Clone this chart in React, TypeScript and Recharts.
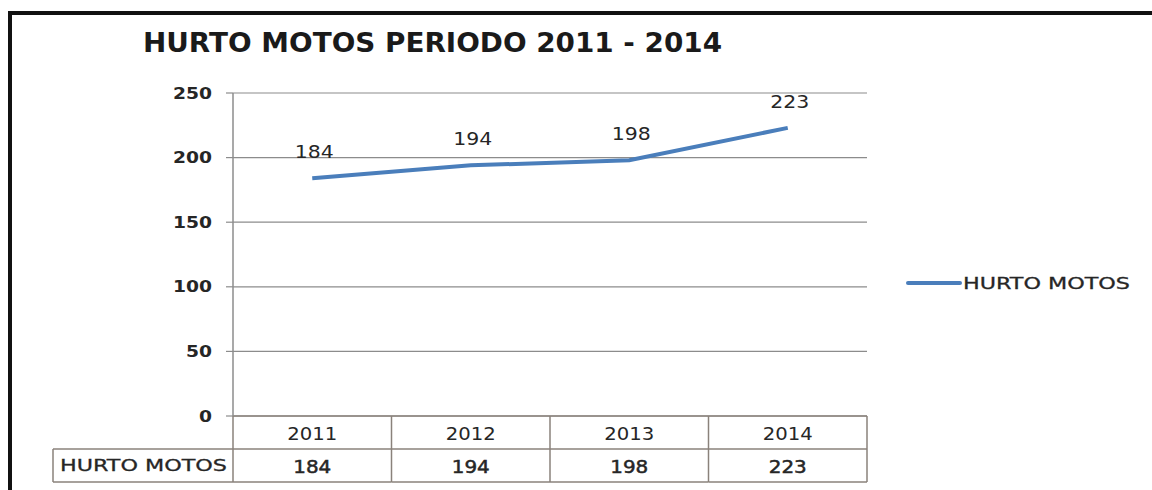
import React from 'react';
import { LineChart, Line, XAxis, YAxis, CartesianGrid, LabelList } from 'recharts';

const CATEGORIES = ['2011', '2012', '2013', '2014'];
const HURTO_MOTOS = [184, 194, 198, 223];
const Y_TICKS = [0, 50, 100, 150, 200, 250];
const SERIES_NAME = 'HURTO MOTOS';
const TITLE = 'HURTO MOTOS PERIODO 2011 - 2014';

const data = CATEGORIES.map((year, i) => ({ year, value: HURTO_MOTOS[i] }));

const W = 1152;
const H = 490;
const PLOT_LEFT = 233;
const PLOT_RIGHT = 867;
const PLOT_TOP = 93;
const PLOT_BOTTOM = 416;
const Y_AXIS_W = 60;
const X_AXIS_H = 74;
const ROW1 = 449;
const ROW2 = 482;
const TABLE_LEFT = 53;

const LINE_BLUE = '#4a7ebb';
const GRID = '#8c8c8c';
const TABLE = '#8a827b';
const INK = '#262626';

const YTick = ({ x, y, payload }: any) => (
  <text
    x={x}
    y={y}
    textAnchor="end"
    dominantBaseline="central"
    fontFamily="DejaVu Sans"
    fontWeight="bold"
    fontSize={16}
    fill={INK}
    textLength={13 * String(payload.value).length}
    lengthAdjust="spacingAndGlyphs"
  >
    {payload.value}
  </text>
);

const TableTick = ({ x, payload, index }: any) => {
  const bw = (PLOT_RIGHT - PLOT_LEFT) / CATEGORIES.length;
  const left = x - bw / 2;
  const right = x + bw / 2;
  const value = HURTO_MOTOS[CATEGORIES.indexOf(payload.value)];
  const last = index === CATEGORIES.length - 1;
  return (
    <g>
      <line x1={left} y1={PLOT_BOTTOM} x2={left} y2={ROW2} stroke={TABLE} strokeWidth={1.5} />
      {last && <line x1={right} y1={PLOT_BOTTOM} x2={right} y2={ROW2} stroke={TABLE} strokeWidth={1.5} />}
      <line x1={left} y1={ROW1} x2={right} y2={ROW1} stroke={TABLE} strokeWidth={1.5} />
      <line x1={left} y1={ROW2} x2={right} y2={ROW2} stroke={TABLE} strokeWidth={1.5} />
      {index === 0 && (
        <g>
          <line x1={TABLE_LEFT} y1={ROW1} x2={left} y2={ROW1} stroke={TABLE} strokeWidth={1.5} />
          <line x1={TABLE_LEFT} y1={ROW2} x2={left} y2={ROW2} stroke={TABLE} strokeWidth={1.5} />
          <line x1={TABLE_LEFT} y1={ROW1} x2={TABLE_LEFT} y2={ROW2} stroke={TABLE} strokeWidth={1.5} />
          <text
            x={TABLE_LEFT + 7}
            y={(ROW1 + ROW2) / 2}
            dominantBaseline="central"
            fontFamily="DejaVu Sans"
            fontSize={16}
            fill={INK}
            stroke={INK}
            strokeWidth={0.3}
            textLength={167}
            lengthAdjust="spacingAndGlyphs"
          >
            {SERIES_NAME}
          </text>
        </g>
      )}
      <text
        x={x}
        y={(PLOT_BOTTOM + ROW1) / 2 + 1}
        textAnchor="middle"
        dominantBaseline="central"
        fontFamily="DejaVu Sans"
        fontSize={18}
        fill={INK}
        textLength={50}
        lengthAdjust="spacingAndGlyphs"
      >
        {payload.value}
      </text>
      <text
        x={x}
        y={(ROW1 + ROW2) / 2 + 1}
        textAnchor="middle"
        dominantBaseline="central"
        fontFamily="DejaVu Sans"
        fontSize={18}
        fill={INK}
        stroke={INK}
        strokeWidth={0.5}
        textLength={38}
        lengthAdjust="spacingAndGlyphs"
      >
        {value}
      </text>
    </g>
  );
};

const PointLabel = ({ x, y, value }: any) => (
  <text
    x={x + 2}
    y={y - 26}
    textAnchor="middle"
    dominantBaseline="central"
    fontFamily="DejaVu Sans"
    fontSize={17}
    fill={INK}
    textLength={39}
    lengthAdjust="spacingAndGlyphs"
  >
    {value}
  </text>
);

export default function App() {
  return (
    <div style={{ position: 'absolute', left: 0, top: 0, width: W, height: H, background: '#fff', overflow: 'hidden' }}>
      <div style={{ position: 'absolute', left: 0, top: 0 }}>
        <LineChart
          width={W}
          height={H}
          data={data}
          margin={{ top: PLOT_TOP, right: W - PLOT_RIGHT, bottom: H - PLOT_BOTTOM - X_AXIS_H, left: PLOT_LEFT - Y_AXIS_W }}
        >
          <CartesianGrid vertical={false} stroke={GRID} strokeWidth={1.2} />
          <XAxis
            dataKey="year"
            scale="band"
            interval={0}
            height={X_AXIS_H}
            axisLine={{ stroke: TABLE, strokeWidth: 1.5 }}
            tickLine={false}
            tick={<TableTick />}
          />
          <YAxis
            width={Y_AXIS_W}
            domain={[0, 250]}
            ticks={Y_TICKS}
            interval={0}
            axisLine={{ stroke: GRID, strokeWidth: 1.5 }}
            tickLine={{ stroke: GRID, strokeWidth: 1.2 }}
            tickSize={7}
            tickMargin={14}
            tick={<YTick />}
          />
          <Line
            type="linear"
            dataKey="value"
            name={SERIES_NAME}
            stroke={LINE_BLUE}
            strokeWidth={4}
            dot={false}
            activeDot={false}
            isAnimationActive={false}
          >
            <LabelList dataKey="value" content={<PointLabel />} />
          </Line>
        </LineChart>
      </div>
      <svg width={W} height={H} style={{ position: 'absolute', left: 0, top: 0, pointerEvents: 'none' }}>
        <line x1={8} y1={13} x2={W} y2={13} stroke="#111" strokeWidth={4} />
        <line x1={10} y1={11} x2={10} y2={H} stroke="#111" strokeWidth={4} />
        <text
          x={143}
          y={52}
          fontFamily="DejaVu Sans"
          fontWeight="bold"
          fontSize={26}
          fill="#1a1a1a"
          textLength={579}
          lengthAdjust="spacingAndGlyphs"
        >
          {TITLE}
        </text>
        <g>
          <line x1={908} y1={283} x2={960} y2={283} stroke={LINE_BLUE} strokeWidth={4} strokeLinecap="round" />
          <text
            x={963}
            y={283}
            dominantBaseline="central"
            fontFamily="DejaVu Sans"
            fontSize={16}
            fill={INK}
            stroke={INK}
            strokeWidth={0.3}
            textLength={167}
            lengthAdjust="spacingAndGlyphs"
          >
            {SERIES_NAME}
          </text>
        </g>
      </svg>
    </div>
  );
}
